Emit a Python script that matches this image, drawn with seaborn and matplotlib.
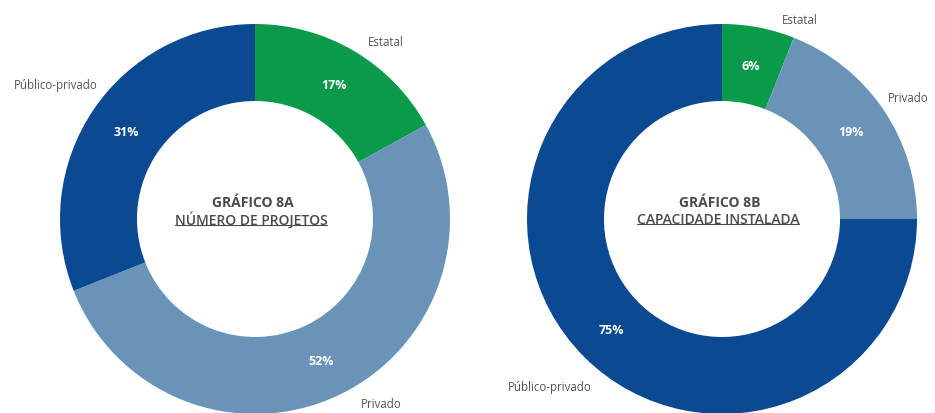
import matplotlib
matplotlib.use('Agg')
import matplotlib.pyplot as plt
import seaborn as sns

# data
categories = ['Estatal', 'Privado', 'Público-privado']
projetos = [17, 52, 31]
capacidade = [6, 19, 75]
titulo_a = ['GRÁFICO 8A', 'NÚMERO DE PROJETOS']
titulo_b = ['GRÁFICO 8B', 'CAPACIDADE INSTALADA']

sns.set_theme(style='white')
plt.rcParams['font.family'] = ['Open Sans', 'DejaVu Sans']

palette = {'Estatal': '#0a9a4a', 'Privado': '#6994b8', 'Público-privado': '#0b4a93'}
colors = [palette[c] for c in categories]

W, H = 935, 414
fig = plt.figure(figsize=(W / 100, H / 100), dpi=100)
ax = fig.add_axes([0, 0, 1, 1])

R = 195
RING = 77


def donut(values, cx, cy, titles, label_pos):
    ax.pie(values, colors=colors, startangle=90, counterclock=False,
           center=(cx, H - cy), radius=R,
           wedgeprops=dict(width=RING, linewidth=0),
           autopct=lambda p: f'{p:.0f}%', pctdistance=0.8,
           textprops=dict(color='white', fontsize=9, fontweight='bold'))
    for cat, (x, y) in zip(categories, label_pos):
        ax.text(x, H - y, cat, ha='center', va='center', fontsize=8.3, color='#555555')
    ax.text(cx - 2, H - 203, titles[0], ha='center', va='center',
            fontsize=10, fontweight='bold', color='#4a4a4a')
    sub = ax.text(cx - 4, H - 220, titles[1], ha='center', va='center',
                  fontsize=10, fontweight='semibold', color='#4a4a4a')
    return sub


sub_a = donut(projetos, 255, 220, titulo_a, [(386, 42), (381, 405), (56, 85)])
sub_b = donut(capacidade, 722, 220, titulo_b, [(800, 20), (908, 98), (550, 388)])

ax.set_xlim(0, W)
ax.set_ylim(0, H)
ax.axis('off')

# underline the subtitles
fig.canvas.draw()
renderer = fig.canvas.get_renderer()
for t in [sub_a, sub_b]:
    bb = t.get_window_extent(renderer)
    ax.plot([bb.x0, bb.x1], [bb.y0 + 2, bb.y0 + 2], color='#4a4a4a', linewidth=0.8)

fig.savefig('out.png', dpi=100)
